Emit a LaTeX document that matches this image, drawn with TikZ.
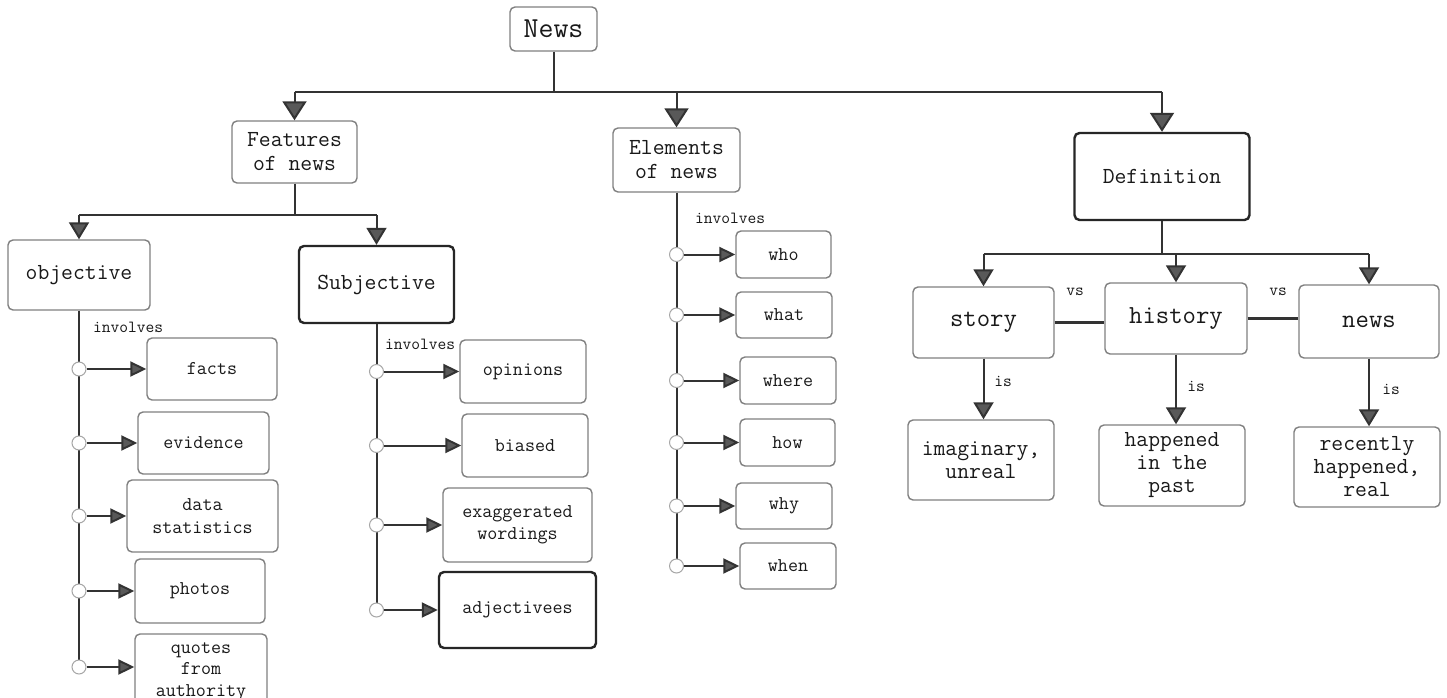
\documentclass[tikz,border=0pt]{standalone}
\usetikzlibrary{arrows.meta}
\begin{document}
\begin{tikzpicture}[x=1pt,y=-1pt,
  box/.style={draw=black!50, line width=1.4pt, rounded corners=5pt, fill=white,
    align=center, inner sep=0pt, text=black!90},
  boldbox/.style={box, draw=black!85, line width=2.4pt},
  fnews/.style={font=\ttfamily\fontsize{29}{30}\selectfont},
  fhead/.style={font=\ttfamily\fontsize{23}{24}\selectfont},
  frow/.style={font=\ttfamily\fontsize{26}{26}\selectfont},
  fitem/.style={font=\ttfamily\fontsize{19.5}{22.5}\selectfont},
  fleaf/.style={font=\ttfamily\fontsize{23}{23}\selectfont},
  lbl/.style={font=\ttfamily\fontsize{17}{17}\selectfont, text=black!90, inner sep=0pt},
  wire/.style={draw=black!80, line width=2pt},
  bigarrow/.style={wire, -{Triangle[length=19pt,width=24pt,fill=black!65]}},
  midarrow/.style={wire, -{Triangle[length=17pt,width=20pt,fill=black!65]}},
  smallarrow/.style={wire, -{Triangle[length=16pt,width=15pt,fill=black!65]}},
  dot/.style={circle, draw=black!35, line width=1pt, fill=white, minimum size=14pt, inner sep=0pt},
]
\useasboundingbox (0,0) rectangle (1447,698);
\fill[white] (0,0) rectangle (1447,698);

% ---------- root ----------
\node[box, fnews, minimum width=87pt, minimum height=44pt] (news) at (553.5,29) {News};

% ---------- first level ----------
\node[box, fhead, minimum width=125pt, minimum height=62pt] (feat) at (294.5,152) {Features\\of news};
\node[box, fhead, minimum width=127pt, minimum height=64pt] (elem) at (676.5,160) {Elements\\of news};
\node[boldbox, fhead, minimum width=175pt, minimum height=87pt] (defn) at (1162,176.5) {Definition};

\coordinate (bar) at (553.5,92);
\draw[wire] (news.south) -- (bar);
\draw[wire] (feat.north |- bar) -- (defn.north |- bar);
\draw[bigarrow] (feat.north |- bar) -- (feat.north);
\draw[bigarrow] (elem.north |- bar) -- (elem.north);
\draw[bigarrow] (defn.north |- bar) -- (defn.north);

% ---------- features of news ----------
\node[box, fhead, minimum width=142pt, minimum height=70pt] (obj) at (79,275) {objective};
\node[boldbox, fhead, minimum width=155pt, minimum height=77pt] (subj) at (376.5,284.5) {Subjective};
\coordinate (fb) at (294.5,215);
\draw[wire] (feat.south) -- (fb);
\draw[wire] (obj.north |- fb) -- (subj.north |- fb);
\draw[midarrow] (obj.north |- fb) -- (obj.north);
\draw[midarrow] (subj.north |- fb) -- (subj.north);

% objective items
\node[box, fitem, minimum width=130pt, minimum height=62pt] (facts) at (212,369) {facts};
\node[box, fitem, minimum width=131pt, minimum height=62pt] (evid) at (203.5,443) {evidence};
\node[box, fitem, minimum width=151pt, minimum height=72pt] (data) at (202.5,516) {data\\statistics};
\node[box, fitem, minimum width=130pt, minimum height=64pt] (photos) at (200,591) {photos};
\node[box, fitem, minimum width=132pt, minimum height=72pt] (quotes) at (201,670)
  {\raisebox{5pt}{\begin{tabular}{@{}c@{}}quotes\\[-1pt]from\\[-1pt]authority\end{tabular}}};
\node[lbl, anchor=west] (inv1) at (93,327) {involves};
\draw[wire] (obj.south) -- (obj.south |- quotes.west);
\foreach \t/\n in {facts/o1, evid/o2, data/o3, photos/o4}{
  \node[dot] (\n) at (obj.south |- \t.west) {};
  \draw[smallarrow] (\n) -- (\t);
}
\node[dot] (o5) at ([yshift=3pt]obj.south |- quotes.west) {};
\draw[smallarrow] (o5) -- (o5 -| quotes.west);

% subjective items
\node[box, fitem, minimum width=126pt, minimum height=63pt] (opin) at (523,371.5) {opinions};
\node[box, fitem, minimum width=126pt, minimum height=63pt] (bias) at (525,445.5) {biased};
\node[box, fitem, minimum width=149pt, minimum height=74pt] (exag) at (517.5,525) {exaggerated\\wordings};
\node[boldbox, fitem, minimum width=157pt, minimum height=76pt] (adj) at (517.5,610) {adjectivees};
\node[lbl, anchor=west] (inv2) at (385,344) {involves};
\draw[wire] (subj.south) -- (subj.south |- adj.west);
\foreach \t/\n in {opin/s1, bias/s2, exag/s3, adj/s4}{
  \node[dot] (\n) at (subj.south |- \t.west) {};
  \draw[smallarrow] (\n) -- (\t);
}

% ---------- elements of news ----------
\node[box, fitem, minimum width=95pt, minimum height=47pt] (who) at (783.5,254.5) {who};
\node[box, fitem, minimum width=96pt, minimum height=46pt] (what) at (784,315) {what};
\node[box, fitem, minimum width=96pt, minimum height=47pt] (where) at (788,380.5) {where};
\node[box, fitem, minimum width=95pt, minimum height=47pt] (how) at (787.5,442.5) {how};
\node[box, fitem, minimum width=96pt, minimum height=46pt] (why) at (784,506) {why};
\node[box, fitem, minimum width=96pt, minimum height=46pt] (when) at (788,566) {when};
\node[lbl, anchor=west] (inv3) at (695,218) {involves};
\draw[wire] (elem.south) -- (elem.south |- when.west);
\foreach \t/\n in {who/e1, what/e2, where/e3, how/e4, why/e5, when/e6}{
  \node[dot] (\n) at (elem.south |- \t.west) {};
  \draw[smallarrow] (\n) -- (\t);
}

% ---------- definition ----------
\node[box, frow, minimum width=141pt, minimum height=71pt] (story) at (983.5,322.5) {story};
\node[box, frow, minimum width=142pt, minimum height=71pt] (hist) at (1176,318.5) {history};
\node[box, frow, minimum width=140pt, minimum height=73pt] (newsd) at (1369,321.5) {news};
\coordinate (db) at (1162,254);
\draw[wire] (defn.south) -- (db);
\draw[wire] (story.north |- db) -- (newsd.north |- db);
\draw[midarrow] (story.north |- db) -- (story.north);
\draw[midarrow] (hist.north |- db) -- (hist.north);
\draw[midarrow] (newsd.north |- db) -- (newsd.north);

\draw[wire, line width=2.6pt] (story.east) -- (story.east -| hist.west);
\draw[wire, line width=2.6pt] (hist.east) -- (hist.east -| newsd.west);
\node[lbl] (vs1) at (1075,292) {vs};
\node[lbl] (vs2) at (1278,292) {vs};

\node[box, fleaf, minimum width=146pt, minimum height=80pt] (imag) at (981,460) {imaginary,\\unreal};
\node[box, fleaf, minimum width=146pt, minimum height=81pt] (happ) at (1172,465.5) {happened\\in the\\past};
\node[box, fleaf, minimum width=146pt, minimum height=80pt] (rec) at (1367,467) {recently\\happened,\\real};
\draw[midarrow] (story.south) -- (story.south |- imag.north);
\draw[midarrow] (hist.south) -- (hist.south |- happ.north);
\draw[midarrow] (newsd.south) -- (newsd.south |- rec.north);
\node[lbl] (is1) at (1003,381) {is};
\node[lbl] (is2) at (1196,386) {is};
\node[lbl] (is3) at (1391,389) {is};
\end{tikzpicture}
\end{document}
